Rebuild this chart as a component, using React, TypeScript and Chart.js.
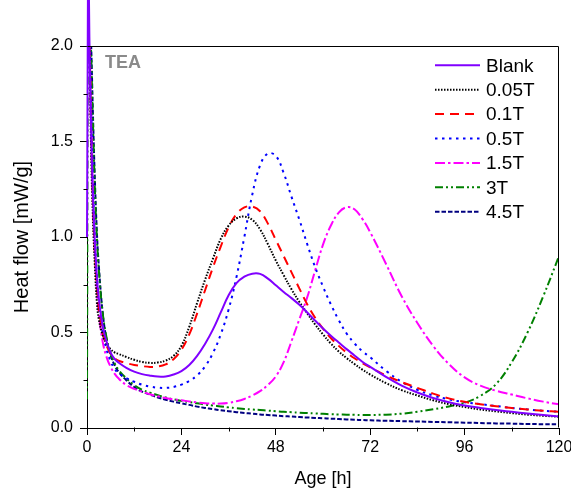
import React, { useEffect, useRef } from "react";
import { Chart, registerables } from "chart.js";

Chart.register(...registerables);

// ---- Data ----
const hours = [
  0, 0.3, 0.6, 1, 1.5, 2, 2.5, 3, 4, 5, 6, 7, 8,
  10, 12, 14, 16, 18, 20, 22, 24, 26, 28, 30, 32, 34, 36, 38, 40, 42, 44, 46, 48, 50, 52, 54, 56, 58, 60, 62, 64, 66, 68, 70, 72,
  76, 80, 84, 88, 92, 96, 100, 104, 108, 112, 116, 120,
];

const blank = [
  1.0, 2.6, 2.05, 1.6, 1.22, 0.97, 0.8, 0.68, 0.53, 0.45, 0.395, 0.362, 0.343,
  0.315, 0.295, 0.282, 0.274, 0.269, 0.27, 0.28, 0.298, 0.33, 0.378, 0.44, 0.515, 0.605, 0.695, 0.758, 0.792, 0.808, 0.807, 0.782, 0.747, 0.712, 0.68, 0.645, 0.605, 0.562, 0.521, 0.483, 0.448, 0.413, 0.38, 0.347, 0.32,
  0.268, 0.222, 0.186, 0.157, 0.135, 0.118, 0.105, 0.094, 0.085, 0.076, 0.068, 0.06,
];

const t005 = [
  2.3, 2.3, 2.05, 1.5, 1.1, 0.85, 0.66, 0.57, 0.485, 0.44, 0.412, 0.396, 0.388,
  0.372, 0.357, 0.346, 0.341, 0.343, 0.353, 0.377, 0.43, 0.53, 0.655, 0.775, 0.885, 0.99, 1.06, 1.097, 1.107, 1.09, 1.04, 0.962, 0.877, 0.8, 0.726, 0.66, 0.6, 0.542, 0.49, 0.442, 0.401, 0.366, 0.335, 0.306, 0.28,
  0.235, 0.198, 0.17, 0.145, 0.125, 0.11, 0.097, 0.087, 0.078, 0.07, 0.064, 0.059,
];

const t01 = [
  2.3, 2.3, 2.1, 1.6, 1.18, 0.92, 0.75, 0.63, 0.5, 0.43, 0.39, 0.366, 0.353,
  0.34, 0.33, 0.324, 0.32, 0.322, 0.333, 0.36, 0.41, 0.49, 0.6, 0.72, 0.84, 0.95, 1.05, 1.12, 1.155, 1.16, 1.135, 1.07, 0.985, 0.9, 0.815, 0.73, 0.647, 0.577, 0.52, 0.471, 0.43, 0.395, 0.365, 0.34, 0.318,
  0.275, 0.24, 0.21, 0.18, 0.155, 0.137, 0.124, 0.114, 0.105, 0.097, 0.09, 0.085,
];

const t05 = [
  2.3, 2.3, 2.2, 1.75, 1.3, 1.0, 0.8, 0.66, 0.5, 0.41, 0.35, 0.31, 0.288,
  0.262, 0.242, 0.227, 0.217, 0.211, 0.21, 0.215, 0.227, 0.246, 0.276, 0.322, 0.392, 0.49, 0.62, 0.79, 1.0, 1.22, 1.375, 1.437, 1.425, 1.335, 1.21, 1.09, 0.962, 0.842, 0.74, 0.647, 0.565, 0.495, 0.443, 0.402, 0.37,
  0.3, 0.242, 0.2, 0.17, 0.15, 0.135, 0.125, 0.115, 0.105, 0.097, 0.09, 0.085,
];

const t15 = [
  2.3, 2.3, 2.1, 1.65, 1.2, 0.92, 0.72, 0.6, 0.45, 0.37, 0.32, 0.285, 0.26,
  0.225, 0.205, 0.19, 0.177, 0.166, 0.157, 0.15, 0.145, 0.139, 0.134, 0.13, 0.128, 0.128, 0.132, 0.14, 0.152, 0.17, 0.193, 0.225, 0.27, 0.345, 0.455, 0.57, 0.685, 0.825, 0.96, 1.06, 1.128, 1.156, 1.145, 1.095, 1.025,
  0.86, 0.69, 0.55, 0.43, 0.335, 0.265, 0.222, 0.195, 0.175, 0.155, 0.138, 0.124,
];

const t3 = [
  0.15, 2.3, 2.3, 2.0, 1.6, 1.25, 1.0, 0.83, 0.6, 0.47, 0.39, 0.34, 0.305,
  0.26, 0.225, 0.2, 0.185, 0.172, 0.16, 0.15, 0.142, 0.135, 0.13, 0.123, 0.118, 0.113, 0.108, 0.104, 0.1, 0.097, 0.094, 0.091, 0.088, 0.085, 0.083, 0.08, 0.078, 0.076, 0.074, 0.072, 0.071, 0.07, 0.069, 0.068, 0.068,
  0.07, 0.075, 0.085, 0.098, 0.113, 0.132, 0.168, 0.23, 0.345, 0.5, 0.69, 0.9,
];

const t45 = [
  2.3, 2.3, 2.3, 2.05, 1.65, 1.3, 1.03, 0.85, 0.6, 0.46, 0.38, 0.33, 0.295,
  0.25, 0.215, 0.19, 0.175, 0.16, 0.148, 0.138, 0.129, 0.121, 0.112, 0.105, 0.099, 0.093, 0.088, 0.083, 0.079, 0.075, 0.071, 0.068, 0.065, 0.062, 0.06, 0.057, 0.055, 0.053, 0.051, 0.049, 0.047, 0.045, 0.043, 0.042, 0.04,
  0.038, 0.036, 0.034, 0.032, 0.03, 0.028, 0.026, 0.024, 0.023, 0.021, 0.02, 0.019,
];

const seriesLabels = ["Blank", "0.05T", "0.1T", "0.5T", "1.5T", "3T", "4.5T"];
const seriesValues = [blank, t005, t01, t05, t15, t3, t45];

const xTicks = [0, 24, 48, 72, 96, 120];
const xMinorTicks = [12, 36, 60, 84, 108];
const yTicks = [0, 0.5, 1.0, 1.5, 2.0];
const yMinorTicks = [0.25, 0.75, 1.25, 1.75];

// ---- Styles ----
const colors = ["#8000ff", "#000000", "#ff0000", "#0000ff", "#ff00ff", "#008000", "#000080"];
const dashes: number[][] = [[], [1.5, 1.5], [9, 6], [2.5, 4.5], [10, 3, 2.5, 3], [8, 3, 2, 3, 2, 3], [4.5, 2]];

const FONT = "'Liberation Sans', Arial, Helvetica, sans-serif";

const decorPlugin = {
  id: "decor",
  afterDraw(chart: any) {
    const { ctx, chartArea } = chart;
    const xs = chart.scales.x;
    const ys = chart.scales.y;
    ctx.save();
    // frame top and right
    ctx.strokeStyle = "#000";
    ctx.lineWidth = 1;
    ctx.setLineDash([]);
    const top = Math.round(chartArea.top) + 0.5;
    const right = Math.round(chartArea.right) - 0.5;
    const left = Math.round(chartArea.left) + 0.5;
    const bottom = Math.round(chartArea.bottom) - 0.5;
    ctx.beginPath();
    ctx.moveTo(left, top);
    ctx.lineTo(right, top);
    ctx.lineTo(right, bottom);
    ctx.stroke();
    // minor ticks
    ctx.beginPath();
    xMinorTicks.forEach((v) => {
      const px = Math.round(xs.getPixelForValue(v)) + 0.5;
      ctx.moveTo(px, bottom);
      ctx.lineTo(px, bottom + 4);
    });
    yMinorTicks.forEach((v) => {
      const py = Math.round(ys.getPixelForValue(v)) + 0.5;
      ctx.moveTo(left, py);
      ctx.lineTo(left - 4, py);
    });
    ctx.stroke();

    // TEA label
    ctx.fillStyle = "#8a8a8a";
    ctx.font = `bold 18px ${FONT}`;
    ctx.textBaseline = "alphabetic";
    ctx.textAlign = "left";
    ctx.fillText("TEA", chartArea.left + 18, chartArea.top + 22);

    // legend
    const lx0 = chartArea.right - 124;
    const lx1 = chartArea.right - 79;
    const tx = chartArea.right - 73;
    chart.data.datasets.forEach((ds: any, i: number) => {
      const y = chartArea.top + 19.3 + i * 24.4;
      ctx.beginPath();
      ctx.setLineDash(ds.borderDash || []);
      ctx.strokeStyle = ds.borderColor;
      ctx.lineWidth = ds.borderWidth;
      ctx.moveTo(lx0, y);
      ctx.lineTo(lx1, y);
      ctx.stroke();
      ctx.setLineDash([]);
      ctx.fillStyle = "#000";
      ctx.font = `19px ${FONT}`;
      ctx.textBaseline = "middle";
      ctx.fillText(ds.label, tx, y + 1);
    });
    ctx.restore();
  },
};

export default function App() {
  const canvasRef = useRef<HTMLCanvasElement | null>(null);

  useEffect(() => {
    document.body.style.margin = "0";
    const canvas = canvasRef.current;
    if (!canvas) return;
    Chart.defaults.font.family = FONT;
    Chart.defaults.color = "#000";

    const datasets = seriesLabels.map((label, i) => ({
      label,
      data: hours.map((h, j) => ({ x: h, y: seriesValues[i][j] })),
      borderColor: colors[i],
      backgroundColor: colors[i],
      borderDash: dashes[i],
      borderWidth: 2,
      pointRadius: 0,
      fill: false,
      tension: 0.4,
      ...(i === 0 ? { clip: false as const } : {}),
    }));

    const chart = new Chart(canvas, {
      type: "line",
      data: { datasets },
      options: {
        animation: false,
        responsive: true,
        maintainAspectRatio: false,
        layout: { padding: { left: 0, right: 12, top: 46, bottom: 0 } },
        plugins: { legend: { display: false }, tooltip: { enabled: false } },
        scales: {
          x: {
            type: "linear",
            min: 0,
            max: 120,
            afterFit: (s: any) => {
              s.height = 62;
              s.paddingLeft = 0;
              s.paddingRight = 0;
            },
            afterBuildTicks: (s: any) => {
              s.ticks = xTicks.map((v) => ({ value: v }));
            },
            ticks: { font: { size: 16 }, color: "#000", padding: 3, maxRotation: 0, callback: (v: any) => String(v) },
            grid: { display: true, drawOnChartArea: false, drawTicks: true, tickLength: 7, color: "#000", lineWidth: 1 },
            border: { display: true, color: "#000", width: 1 },
            title: { display: true, text: "Age [h]", font: { size: 18 }, color: "#000", padding: { top: 0, bottom: 0 } },
          },
          y: {
            type: "linear",
            min: 0,
            max: 2,
            afterFit: (s: any) => {
              s.width = 87;
              s.paddingTop = 0;
              s.paddingBottom = 0;
            },
            afterBuildTicks: (s: any) => {
              s.ticks = yTicks.map((v) => ({ value: v }));
            },
            ticks: { font: { size: 16 }, color: "#000", padding: 7, callback: (v: any) => Number(v).toFixed(1) },
            grid: { display: true, drawOnChartArea: false, drawTicks: true, tickLength: 7, color: "#000", lineWidth: 1 },
            border: { display: true, color: "#000", width: 1 },
            title: { display: true, text: "Heat flow [mW/g]", font: { size: 20 }, color: "#000", padding: { top: 10, bottom: 0 } },
          },
        },
      },
      plugins: [decorPlugin],
    });

    return () => chart.destroy();
  }, []);

  return (
    <div style={{ width: 571, height: 490, position: "relative" }}>
      <canvas ref={canvasRef} />
    </div>
  );
}
